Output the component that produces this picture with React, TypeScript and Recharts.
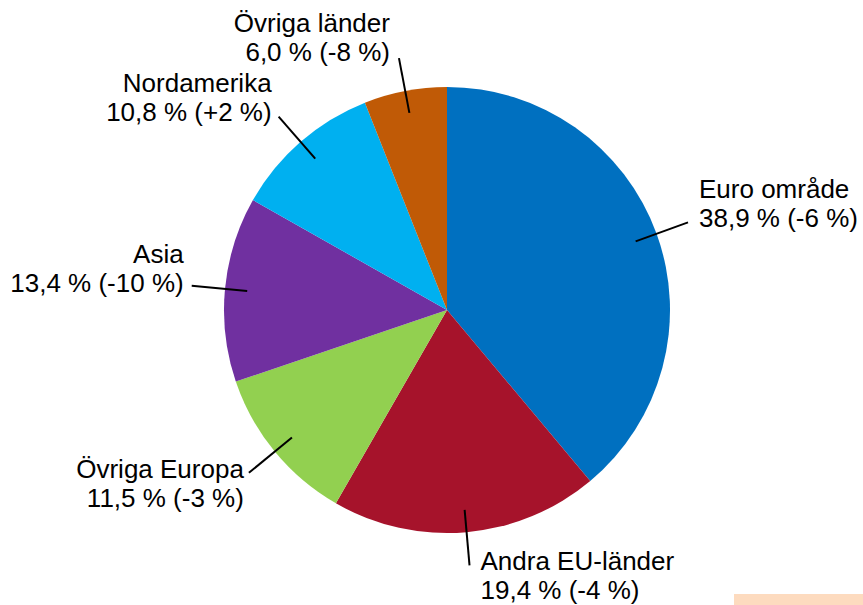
import React from 'react';
import { PieChart, Pie, Cell } from 'recharts';

const categories = ['Euro område', 'Andra EU-länder', 'Övriga Europa', 'Asia', 'Nordamerika', 'Övriga länder'];
const shares = [38.9, 19.4, 11.5, 13.4, 10.8, 6.0];
const changes = ['-6', '-4', '-3', '-10', '+2', '-8'];
const colors = ['#0070C0', '#A6132B', '#92D050', '#7030A0', '#00B0F0', '#C05A06'];

// label text placement relative to the leader line end
const labelLayout = [
  { anchor: 'start', dx: 11, dy: -24 },
  { anchor: 'start', dx: 11, dy: 5 },
  { anchor: 'end', dx: -5, dy: 5 },
  { anchor: 'end', dx: -8, dy: -23 },
  { anchor: 'end', dx: -7, dy: -25 },
  { anchor: 'end', dx: -9, dy: -26 },
];

const data = categories.map((name, i) => ({ name, value: shares[i], change: changes[i] }));

const RAD = Math.PI / 180;
const FONT = '"Liberation Sans", Arial, sans-serif';

const renderLabel = (props: any) => {
  const { cx, cy, midAngle, outerRadius, index } = props;
  const c = Math.cos(-midAngle * RAD);
  const s = Math.sin(-midAngle * RAD);
  const x1 = cx + outerRadius * 0.9 * c;
  const y1 = cy + outerRadius * 0.9 * s;
  const x2 = cx + outerRadius * 1.15 * c;
  const y2 = cy + outerRadius * 1.15 * s;
  const L = labelLayout[index];
  const d = data[index];
  const tx = x2 + L.dx;
  const ty = y2 + L.dy;
  const line2 = `${d.value.toFixed(1).replace('.', ',')} % (${d.change} %)`;
  return (
    <g key={`lbl-${index}`}>
      <line x1={x1} y1={y1} x2={x2} y2={y2} stroke="#000" strokeWidth={2} />
      <text x={tx} y={ty} textAnchor={L.anchor} fontFamily={FONT} fontSize={26} fill="#000">
        {d.name}
      </text>
      <text x={tx} y={ty + 29} textAnchor={L.anchor} fontFamily={FONT} fontSize={26} fill="#000">
        {line2}
      </text>
    </g>
  );
};

export default function App() {
  return (
    <div style={{ position: 'absolute', left: 0, top: 0, width: 863, height: 605, background: '#fff' }}>
      <PieChart width={863} height={605} margin={{ top: 0, right: 0, bottom: 0, left: 0 }}>
        <Pie
          data={data}
          dataKey="value"
          nameKey="name"
          cx={447}
          cy={310}
          outerRadius={223}
          startAngle={90}
          endAngle={-270}
          stroke="none"
          label={renderLabel}
          labelLine={false}
          isAnimationActive={false}
        >
          {data.map((d, i) => (
            <Cell key={d.name} fill={colors[i]} stroke="none" />
          ))}
        </Pie>
      </PieChart>
      <div style={{ position: 'absolute', left: 734, top: 594, width: 129, height: 11, background: '#FDDBBF' }} />
    </div>
  );
}
